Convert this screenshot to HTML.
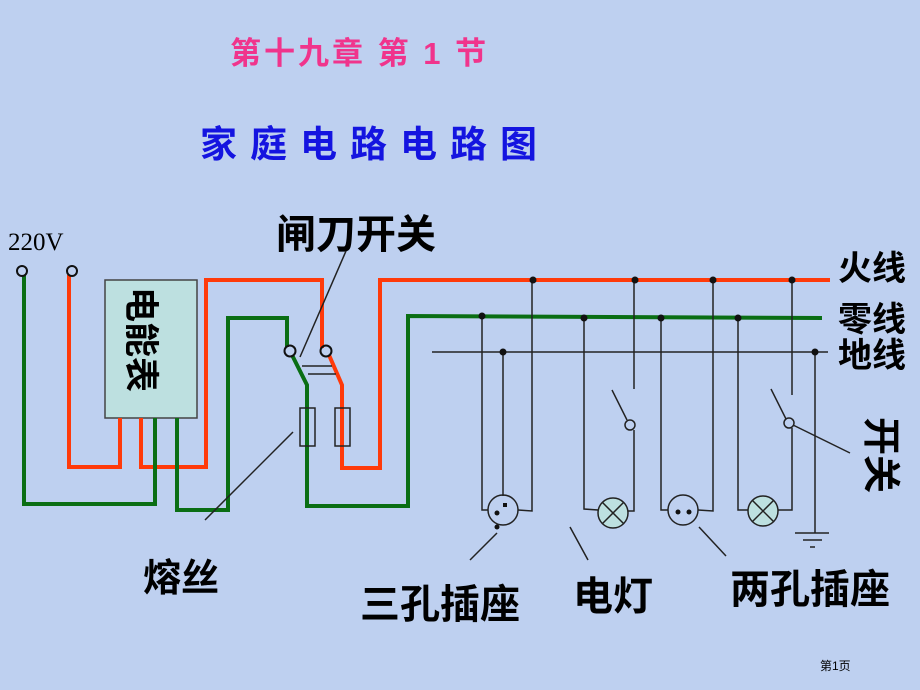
<!DOCTYPE html>
<html><head><meta charset="utf-8"><style>
html,body{margin:0;padding:0;}
body{width:920px;height:690px;overflow:hidden;background:#bed0f0;}
svg{display:block;}
text{font-family:"Liberation Sans","Noto Sans CJK SC",sans-serif;}
</style></head><body>
<svg width="920" height="690" viewBox="0 0 920 690" xmlns="http://www.w3.org/2000/svg">
<rect width="920" height="690" fill="#bed0f0"/>

<text x="230" y="64" font-size="31" fill="#f0348c" font-weight="bold" letter-spacing="3" style="font-family:'Liberation Sans','Noto Sans CJK SC',sans-serif">第十九章  第 1 节</text>
<text x="200" y="157" font-size="37" font-weight="bold" fill="#1414e0" letter-spacing="13">家庭电路电路图</text>
<text x="8" y="250" font-size="25" fill="#000" style="font-family:'Liberation Serif',serif">220V</text>
<text x="276" y="248" font-size="40" fill="#000" font-weight="bold">闸刀开关</text>
<text x="143" y="591" font-size="38" fill="#000" font-weight="bold">熔丝</text>
<text x="360" y="618" font-size="40" fill="#000" font-weight="bold">三孔插座</text>
<text x="573" y="610" font-size="40" fill="#000" font-weight="bold">电灯</text>
<text x="730" y="603" font-size="40" fill="#000" font-weight="bold">两孔插座</text>
<text x="838" y="280" font-size="34" fill="#000" font-weight="bold">火线</text>
<text x="838" y="331" font-size="34" fill="#000" font-weight="bold">零线</text>
<text x="838" y="367" font-size="34" fill="#000" font-weight="bold">地线</text>
<g transform="translate(864,417) rotate(90)"><text x="0" y="-4" font-size="38" fill="#000" font-weight="bold">开关</text></g>
<text x="820" y="670" font-size="12" fill="#000">第1页</text>

<rect x="105" y="280" width="92" height="138" fill="#bde0e0" stroke="#444" stroke-width="1.5"/>
<g transform="translate(125,287) rotate(90)"><text x="0" y="-4" font-size="35" fill="#000" font-weight="bold">电能表</text></g>

<g fill="none" stroke-width="4" stroke-linejoin="miter">
<polyline stroke="#ff3a0a" points="69,275 69,467 120,467 120,418"/>
<polyline stroke="#ff3a0a" points="141,418 141,467 206,467 206,280 322,280 322,348"/>
<polyline stroke="#ff3a0a" points="329,355 342,385 342,468 380,468 380,280 830,280"/>
<polyline stroke="#0a6e14" points="24,275 24,504 155,504 155,418"/>
<polyline stroke="#0a6e14" points="177,418 177,510 228,510 228,318 287,318 287,347"/>
<polyline stroke="#0a6e14" points="292,355 307,385 307,506 408,506 408,316 822,318"/>
</g>
<g fill="none" stroke="#111" stroke-width="2">
<circle cx="22" cy="271" r="5"/><circle cx="72" cy="271" r="5"/>
<circle cx="290" cy="351" r="5.5"/><circle cx="326" cy="351" r="5.5"/>
</g>
<g fill="none" stroke="#222" stroke-width="1.5">
<line x1="302" y1="366" x2="332" y2="366"/><line x1="308" y1="374" x2="336" y2="374"/>
<rect x="300" y="408" width="15" height="38"/><rect x="335" y="408" width="15" height="38"/>
<line x1="346" y1="251" x2="300" y2="357"/>
<line x1="293" y1="432" x2="205" y2="520"/>
<line x1="432" y1="352" x2="828" y2="352"/>
<polyline points="482,318 482,510 488,510"/>
<line x1="503" y1="352" x2="503" y2="496"/>
<polyline points="532,280 532,511 518,510"/>
<polyline points="584,318 584,509 598,510"/>
<line x1="634" y1="280" x2="634" y2="389"/>
<line x1="612" y1="390" x2="627" y2="420"/>
<polyline points="634,430 634,511 627,511"/>
<circle cx="630" cy="425" r="5"/>
<polyline points="661,318 661,510 668,510"/>
<polyline points="713,280 713,511 698,510"/>
<polyline points="738,318 738,510 749,510"/>
<line x1="792" y1="280" x2="792" y2="395"/>
<line x1="771" y1="389" x2="786" y2="419"/>
<polyline points="792,428 792,510 777,510"/>
<circle cx="789" cy="423" r="5"/>
<line x1="793" y1="425" x2="850" y2="453"/>
<line x1="815" y1="352" x2="815" y2="533"/>
<line x1="795" y1="533" x2="829" y2="533"/>
<line x1="803" y1="540" x2="822" y2="540"/>
<line x1="810" y1="547" x2="815" y2="547"/>
<line x1="497" y1="533" x2="470" y2="560"/>
<line x1="570" y1="527" x2="588" y2="560"/>
<line x1="699" y1="527" x2="726" y2="556"/>
</g>
<g stroke="#222" stroke-width="1.5">
<circle cx="503" cy="510" r="15" fill="none"/>
<circle cx="613" cy="513" r="15" fill="#bde0e0"/>
<line x1="602" y1="502" x2="624" y2="524"/><line x1="624" y1="502" x2="602" y2="524"/>
<circle cx="683" cy="510" r="15" fill="none"/>
<circle cx="763" cy="511" r="15" fill="#bde0e0"/>
<line x1="752" y1="500" x2="774" y2="522"/><line x1="774" y1="500" x2="752" y2="522"/>
</g>
<g fill="#111">
<circle cx="533" cy="280" r="3.5"/><circle cx="635" cy="280" r="3.5"/><circle cx="713" cy="280" r="3.5"/><circle cx="792" cy="280" r="3.5"/>
<circle cx="482" cy="316" r="3.5"/><circle cx="584" cy="318" r="3.5"/><circle cx="661" cy="318" r="3.5"/><circle cx="738" cy="318" r="3.5"/>
<circle cx="503" cy="352" r="3.5"/><circle cx="815" cy="352" r="3.5"/>
<circle cx="497" cy="513" r="2.5"/><rect x="503" y="503" width="4" height="4"/><circle cx="497" cy="527" r="2.5"/>
<circle cx="678" cy="512" r="2.5"/><circle cx="689" cy="512" r="2.5"/>
</g>
</svg>
</body></html>
